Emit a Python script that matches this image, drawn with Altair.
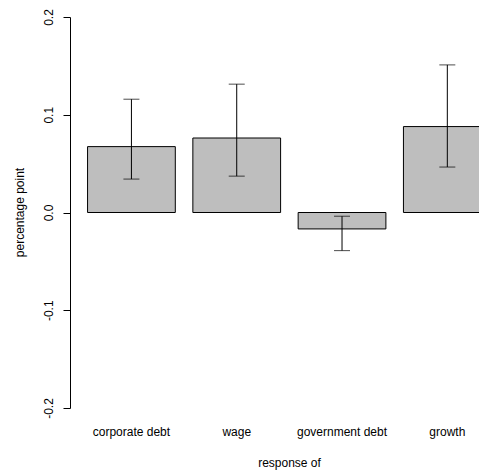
import altair as alt
import pandas as pd

categories = ["corporate debt", "wage", "government debt", "growth"]
values = [0.0674, 0.0762, -0.0168, 0.0879]
lower = [0.0342, 0.0372, -0.0390, 0.0465]
upper = [0.1159, 0.1313, -0.0038, 0.1510]
y_ticks = [-0.2, -0.1, 0.0, 0.1, 0.2]

df = pd.DataFrame({"cat": categories, "val": values, "lo": lower, "hi": upper})

FONT = "Liberation Sans"

x_enc = alt.X(
    "cat:N",
    sort=categories,
    title="response of",
    scale=alt.Scale(range=[0, 438.75], paddingInner=1 / 6, paddingOuter=1 / 6),
    axis=alt.Axis(
        domain=False,
        ticks=False,
        tickSize=0,
        grid=False,
        labelAngle=0,
        labelPadding=18,
        labelFontSize=12,
        labelColor="black",
        labelFont=FONT,
        titleFont=FONT,
        titleFontSize=12,
        titleFontWeight="normal",
        titleColor="black",
        titleX=219,
        titleY=58,
        titleBaseline="alphabetic",
        titleAlign="center",
    ),
)

y_scale = alt.Scale(domain=[-0.2, 0.2], nice=False, zero=False)
y_axis = alt.Axis(
    values=y_ticks,
    labelExpr="replace(format(datum.value, '.1f'), '\u2212', '-')",
    labelAngle=270,
    labelAlign="center",
    labelBaseline="alphabetic",
    labelPadding=11,
    labelFlush=False,
    labelOverlap=False,
    labelFontSize=12,
    labelFont=FONT,
    labelColor="black",
    tickSize=7,
    tickColor="black",
    tickWidth=1,
    domainColor="black",
    domainWidth=1,
    grid=False,
    title="percentage point",
    titleFont=FONT,
    titleFontSize=12,
    titleFontWeight="normal",
    titleColor="black",
    titleAngle=270,
    titleAlign="center",
    titleBaseline="alphabetic",
    titleX=-47,
    titleY=195,
)

base = alt.Chart(df)

bars = base.mark_bar(
    fill="#BEBEBE", stroke="black", strokeWidth=1, clip=True, cornerRadius=0
).encode(
    x=x_enc,
    y=alt.Y("val:Q", scale=y_scale, axis=y_axis),
    y2=alt.datum(0),
)

rule = base.mark_rule(color="black", strokeWidth=1).encode(
    x=alt.X("cat:N", sort=categories),
    y=alt.Y("lo:Q"),
    y2="hi:Q",
)

cap_lo = base.mark_tick(color="black", thickness=1, size=16, orient="horizontal").encode(
    x=alt.X("cat:N", sort=categories),
    y=alt.Y("lo:Q"),
)
cap_hi = base.mark_tick(color="black", thickness=1, size=16, orient="horizontal").encode(
    x=alt.X("cat:N", sort=categories),
    y=alt.Y("hi:Q"),
)

chart = (
    alt.layer(bars, rule, cap_lo, cap_hi)
    .properties(
        width=409,
        height=391,
        autosize=alt.AutoSizeParams(type="none"),
        padding={"left": 62, "top": 9, "right": 0, "bottom": 62},
        background="white",
    )
    .configure(font=FONT)
    .configure_view(stroke=None, strokeWidth=0)
    .configure_axis(grid=False)
)

chart.save("out.html", embed_options={"renderer": "svg", "actions": False})
